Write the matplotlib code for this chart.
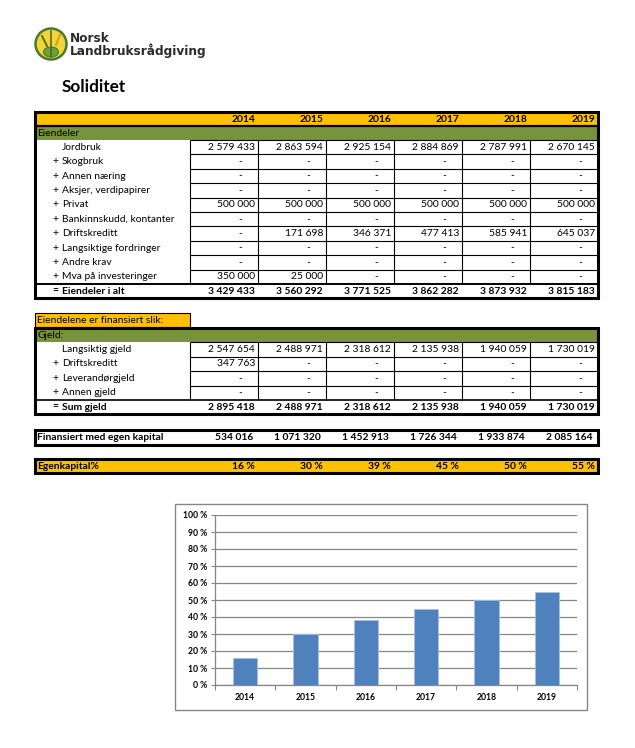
import matplotlib
matplotlib.use('Agg')
import matplotlib.pyplot as plt
from matplotlib.patches import Rectangle, Circle, Ellipse
from matplotlib.ticker import FixedLocator

# ---------------- data ----------------
years = ['2014', '2015', '2016', '2017', '2018', '2019']

asset_labels = ['Jordbruk', 'Skogbruk', 'Annen næring', 'Aksjer, verdipapirer', 'Privat',
                'Bankinnskudd, kontanter', 'Driftskreditt', 'Langsiktige fordringer',
                'Andre krav', 'Mva på investeringer']
jordbruk = [2579433, 2863594, 2925154, 2884869, 2787991, 2670145]
skogbruk = [0, 0, 0, 0, 0, 0]
annen_naering = [0, 0, 0, 0, 0, 0]
aksjer = [0, 0, 0, 0, 0, 0]
privat = [500000, 500000, 500000, 500000, 500000, 500000]
bankinnskudd = [0, 0, 0, 0, 0, 0]
driftskreditt_eiendel = [0, 171698, 346371, 477413, 585941, 645037]
langsiktige_fordringer = [0, 0, 0, 0, 0, 0]
andre_krav = [0, 0, 0, 0, 0, 0]
mva = [350000, 25000, 0, 0, 0, 0]
eiendeler_i_alt = [3429433, 3560292, 3771525, 3862282, 3873932, 3815183]

debt_labels = ['Langsiktig gjeld', 'Driftskreditt', 'Leverandørgjeld', 'Annen gjeld']
langsiktig_gjeld = [2547654, 2488971, 2318612, 2135938, 1940059, 1730019]
driftskreditt_gjeld = [347763, 0, 0, 0, 0, 0]
leverandorgjeld = [0, 0, 0, 0, 0, 0]
annen_gjeld = [0, 0, 0, 0, 0, 0]
sum_gjeld = [2895418, 2488971, 2318612, 2135938, 1940059, 1730019]

egen_kapital = [534016, 1071320, 1452913, 1726344, 1933874, 2085164]
egenkapital_pct_labels = ['16 %', '30 %', '39 %', '45 %', '50 %', '55 %']
egenkapital_pct = [15.6, 30.1, 38.5, 44.7, 49.9, 54.7]
y_ticks = [0, 10, 20, 30, 40, 50, 60, 70, 80, 90, 100]

asset_rows = [jordbruk, skogbruk, annen_naering, aksjer, privat, bankinnskudd,
              driftskreditt_eiendel, langsiktige_fordringer, andre_krav, mva]
debt_rows = [langsiktig_gjeld, driftskreditt_gjeld, leverandorgjeld, annen_gjeld]

# ---------------- styling ----------------
W, H = 635, 748
FONT = ['Lato', 'DejaVu Sans']
YELLOW = '#FFC000'
GREEN = '#77933C'
BLUE = '#4F81BD'
GRID = '#868686'
FS = 7.4

plt.rcParams['font.family'] = FONT

fig = plt.figure(figsize=(W / 100, H / 100), dpi=100)
ax = fig.add_axes([0, 0, 1, 1])
ax.set_xlim(0, W)
ax.set_ylim(H, 0)
ax.axis('off')

L, R = 35, 598
col_edges = [190 + 68 * i for i in range(7)]


def fmt(v):
    return f'{v:,}'.replace(',', '\u00a0')


def put_values(vals, yc, bold=False, right_pad=3):
    for i, v in enumerate(vals):
        xr = col_edges[i + 1]
        if v:
            ax.text(xr - right_pad, yc, fmt(v), ha='right', va='center', fontsize=FS,
                    fontweight='bold' if bold else 'normal')
        else:
            ax.text(xr - 18, yc, '-', ha='center', va='center', fontsize=FS,
                    fontweight='bold' if bold else 'normal')


def hline(y, x0, x1, lw=0.8):
    ax.plot([x0, x1], [y, y], color='black', lw=lw, solid_capstyle='butt')


def vline(x, y0, y1, lw=0.8):
    ax.plot([x, x], [y0, y1], color='black', lw=lw, solid_capstyle='butt')


# ---------------- logo ----------------
ax.add_patch(Circle((51, 44), 15.5, facecolor='#F3D43A', edgecolor='#4C7A2B', lw=1.8))
ax.add_patch(Ellipse((51, 52), 15, 10, facecolor='#6E9E3A', edgecolor='#4C7A2B', lw=0.8))
ax.plot([51, 51], [31, 57], color='#3F6B25', lw=1.1)
ax.plot([42, 47], [36, 46], color='#3F6B25', lw=1.3)
ax.plot([60, 56], [35, 45], color='#C9A227', lw=1.5)
ax.text(70, 38, 'Norsk', fontsize=8.7, fontweight='bold', family='DejaVu Sans',
        color='#2B2B2B', va='center', ha='left')
ax.text(70, 51, 'Landbruksrådgiving', fontsize=8.7, fontweight='bold', family='DejaVu Sans',
        color='#2B2B2B', va='center', ha='left')

ax.text(62, 87, 'Soliditet', fontsize=12.3, fontweight='bold', va='center', ha='left')

# ---------------- section 1: Eiendeler ----------------
top = 112
rh = 14.4
ax.add_patch(Rectangle((L, top), R - L, 14, facecolor=YELLOW, edgecolor='none'))
ax.add_patch(Rectangle((L, top + 14), R - L, 14, facecolor=GREEN, edgecolor='none'))
for i, y in enumerate(years):
    ax.text(col_edges[i + 1] - 3, top + 7, y, ha='right', va='center', fontsize=FS,
            fontweight='bold')
ax.text(L + 2, top + 21, 'Eiendeler', ha='left', va='center', fontsize=FS)

r0 = top + 28
for k, (lab, vals) in enumerate(zip(asset_labels, asset_rows)):
    yc = r0 + rh * (k + 0.5)
    if k > 0:
        ax.text(52, yc, '+', ha='left', va='center', fontsize=FS)
    ax.text(62, yc, lab, ha='left', va='center', fontsize=FS)
    put_values(vals, yc)
r_end = r0 + rh * len(asset_rows)
for k in range(len(asset_rows)):
    hline(r0 + rh * k, col_edges[0], R)
for x in col_edges:
    vline(x, r0, r_end)
sum_y = r_end + 7
ax.text(52, sum_y, '=', ha='left', va='center', fontsize=FS, fontweight='bold')
ax.text(62, sum_y, 'Eiendeler i alt', ha='left', va='center', fontsize=FS, fontweight='bold')
put_values(eiendeler_i_alt, sum_y, bold=True)
hline(r_end, L, R, lw=1.4)
hline(top + 14, L, R, lw=1.6)
ax.add_patch(Rectangle((L, top), R - L, r_end + 14 - top, facecolor='none',
                       edgecolor='black', lw=2.2))

# ---------------- section 2: Gjeld ----------------
t2 = 313
ax.add_patch(Rectangle((L, t2), 190 - L, 14, facecolor=YELLOW, edgecolor='black', lw=0.8))
ax.text(L + 2, t2 + 7, 'Eiendelene er finansiert slik:', ha='left', va='center', fontsize=FS)
g0 = t2 + 15
ax.add_patch(Rectangle((L, g0), R - L, 14, facecolor=GREEN, edgecolor='none'))
ax.text(L + 2, g0 + 7, 'Gjeld:', ha='left', va='center', fontsize=FS)
d0 = g0 + 14
rh2 = 14.5
for k, (lab, vals) in enumerate(zip(debt_labels, debt_rows)):
    yc = d0 + rh2 * (k + 0.5)
    if k > 0:
        ax.text(52, yc, '+', ha='left', va='center', fontsize=FS)
    ax.text(62, yc, lab, ha='left', va='center', fontsize=FS)
    put_values(vals, yc)
d_end = d0 + rh2 * len(debt_rows)
for k in range(len(debt_rows)):
    hline(d0 + rh2 * k, col_edges[0], R)
for x in col_edges:
    vline(x, d0, d_end)
s2 = d_end + 7
ax.text(52, s2, '=', ha='left', va='center', fontsize=FS, fontweight='bold')
ax.text(62, s2, 'Sum gjeld', ha='left', va='center', fontsize=FS, fontweight='bold')
put_values(sum_gjeld, s2, bold=True)
hline(d_end, L, R, lw=1.2)
ax.add_patch(Rectangle((L, g0), R - L, d_end + 14 - g0, facecolor='none',
                       edgecolor='black', lw=2.2))

# ---------------- Finansiert med egen kapital ----------------
f0 = 430
ax.add_patch(Rectangle((L, f0), R - L, 15, facecolor='white', edgecolor='black', lw=2.2))
ax.text(L + 2, f0 + 7.5, 'Finansiert med egen kapital', ha='left', va='center',
        fontsize=FS, fontweight='bold')
put_values(egen_kapital, f0 + 7.5, bold=True, right_pad=5)

# ---------------- Egenkapital% ----------------
e0 = 459
ax.add_patch(Rectangle((L, e0), R - L, 14, facecolor=YELLOW, edgecolor='black', lw=2.2))
ax.text(L + 2, e0 + 7, 'Egenkapital%', ha='left', va='center', fontsize=FS, fontweight='bold')
for i, lab in enumerate(egenkapital_pct_labels):
    ax.text(col_edges[i + 1] - 3, e0 + 7, lab, ha='right', va='center', fontsize=FS,
            fontweight='bold')

# ---------------- chart ----------------
ax.add_patch(Rectangle((175, 504), 587 - 175, 710 - 504, facecolor='white',
                       edgecolor=GRID, lw=1.0))

ax2 = fig.add_axes([215 / W, (H - 685) / H, (577 - 215) / W, (685 - 515) / H])
xs = list(range(len(years)))
ax2.bar(xs, egenkapital_pct, width=0.4, color=BLUE, edgecolor='#A7C0DE', linewidth=0.6,
        zorder=3)
ax2.set_xlim(-0.5, len(years) - 0.5)
ax2.set_ylim(0, 100)
ax2.set_yticks(y_ticks)
ax2.set_yticklabels([f'{t} %' for t in y_ticks], fontsize=6.2, fontweight='bold')
ax2.set_xticks(xs)
ax2.set_xticklabels(years, fontsize=6.2, fontweight='bold')
ax2.xaxis.set_minor_locator(FixedLocator([i - 0.5 for i in range(len(years) + 1)]))
ax2.tick_params(axis='x', which='major', length=0, pad=6)
ax2.tick_params(axis='x', which='minor', length=3.5, color=GRID, direction='out', width=0.8)
ax2.tick_params(axis='y', length=3, color=GRID, direction='out', width=0.8, pad=2.5)
ax2.grid(axis='y', color=GRID, lw=0.9, zorder=0)
ax2.set_axisbelow(True)
for s in ['top', 'right']:
    ax2.spines[s].set_visible(False)
for s in ['left', 'bottom']:
    ax2.spines[s].set_color(GRID)
    ax2.spines[s].set_linewidth(0.9)
ax2.patch.set_alpha(0)

fig.savefig('out.png', dpi=100)
